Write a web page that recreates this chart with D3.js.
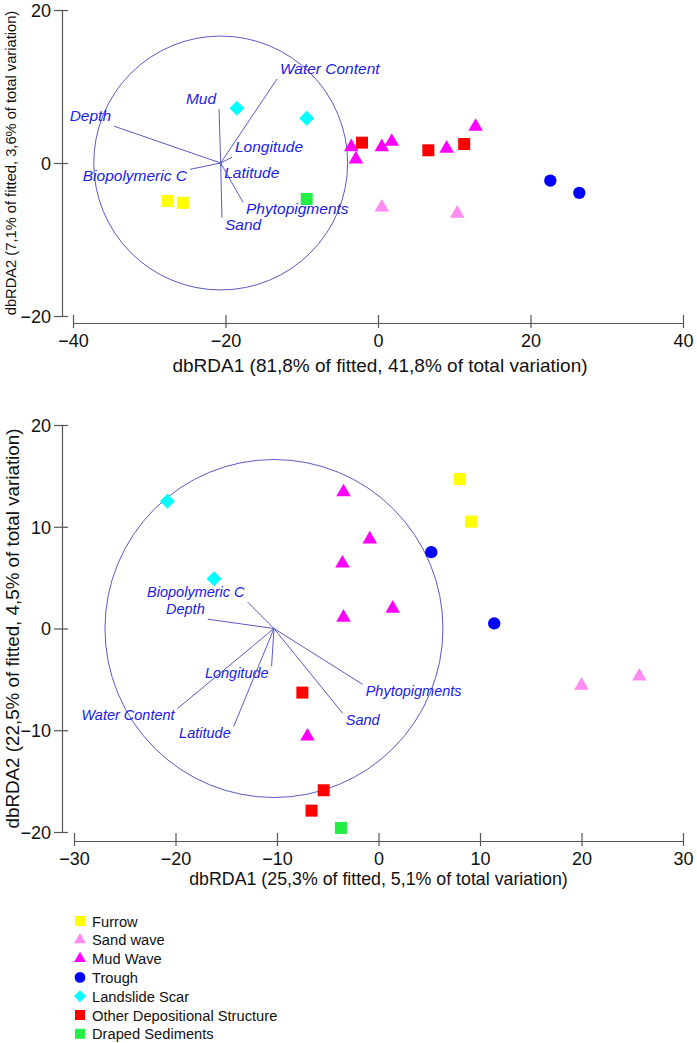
<!DOCTYPE html>
<html><head><meta charset="utf-8">
<script src="https://cdn.jsdelivr.net/npm/d3@7"></script>
<style>body{margin:0;background:#fff;} svg{display:block;font-family:"Liberation Sans",Arial,sans-serif;}</style>
</head><body><div id="chart"></div>
<script>
// ---------- data ----------
const groups = ["Furrow","Sand wave","Mud Wave","Trough","Landslide Scar","Other Depositional Structure","Draped Sediments"];
const groupShapes = ["square","triangle","triangle","circle","diamond","square","square"];
const groupColors = ["#ffff00","#ff8cf2","#ff00ff","#0000ff","#00ffff","#ff0000","#22ee44"];

// Top panel (dbRDA1 vs dbRDA2, first analysis)
const furrow1 = [[-27.6,-4.97],[-25.6,-5.2]];
const sandWave1 = [[0.5,-5.8],[10.4,-6.6]];
const mudWave1 = [[-3.5,2.1],[-2.9,0.5],[0.5,2.1],[1.8,2.8],[9.0,1.9],[12.8,4.75]];
const trough1 = [[22.6,-2.3],[26.4,-3.9]];
const landslide1 = [[-18.5,7.15],[-9.35,5.84]];
const otherDep1 = [[-2.1,2.66],[6.6,1.66],[11.3,2.48]];
const draped1 = [[-9.35,-4.7]];

// Bottom panel (second analysis)
const furrow2 = [[8.0,14.7],[9.1,10.5]];
const sandWave2 = [[20.0,-5.6],[25.7,-4.7]];
const mudWave2 = [[-3.45,13.4],[-0.86,8.77],[-3.55,6.4],[1.4,1.97],[-3.45,1.08],[-7.0,-10.6]];
const trough2 = [[5.2,7.5],[11.4,0.5]];
const landslide2 = [[-20.8,12.5],[-16.2,4.9]];
const otherDep2 = [[-7.5,-6.3],[-5.4,-15.9],[-6.6,-17.9]];
const draped2 = [[-3.7,-19.6]];

// Vectors (correlations, unit circle)
const vecNames1 = ["Depth","Mud","Water Content","Longitude","Biopolymeric C","Latitude","Phytopigments","Sand"];
const vecX1 = [-0.840,-0.013,0.443,0.089,-0.242,0.004,0.176,0.010];
const vecY1 = [0.289,0.423,0.659,0.045,-0.050,-0.026,-0.309,-0.428];
const vecNames2 = ["Biopolymeric C","Depth","Longitude","Water Content","Latitude","Sand","Phytopigments"];
const vecX2 = [-0.156,-0.392,-0.014,-0.570,-0.238,0.407,0.525];
const vecY2 = [0.156,0.055,-0.223,-0.472,-0.578,-0.501,-0.330];

const circleCenter1 = [-20.63, 0], circleCenter2 = [-10.3, 0];
const circleRadius = 16.65;

const xTicks1 = [-40,-20,0,20,40], yTicks1 = [-20,0,20];
const xTicks2 = [-30,-20,-10,0,10,20,30], yTicks2 = [-20,-10,0,10,20];
const xTitle1 = "dbRDA1 (81,8% of fitted, 41,8% of total variation)";
const yTitle1 = "dbRDA2 (7,1% of fitted, 3,6% of total variation)";
const xTitle2 = "dbRDA1 (25,3% of fitted, 5,1% of total variation)";
const yTitle2 = "dbRDA2 (22,5% of fitted, 4,5% of total variation)";

// ---------- drawing ----------
const W = 697, H = 1043;
const svg = d3.select("#chart").append("svg").attr("width", W).attr("height", H);
const axisColor = "#555";
const vecColor = "#5a5ac4";
const labelColor = "#2020e6";

function shapePath(shape, size) {
  if (shape === "square") return d3.symbol(d3.symbolSquare, size)();
  if (shape === "triangle") return d3.symbol(d3.symbolTriangle, size)();
  if (shape === "circle") return d3.symbol(d3.symbolCircle, size)();
  if (shape === "diamond") return d3.symbol(d3.symbolSquare, size)();
}
const markerSize = {square:144, triangle:92, circle:120, diamond:112};

function panel(cfg) {
  const g = svg.append("g");
  const x = d3.scaleLinear().domain(cfg.xDomain).range(cfg.xRange);
  const y = d3.scaleLinear().domain(cfg.yDomain).range(cfg.yRange);

  // x axis
  const xa = g.append("g").attr("transform", `translate(0,${cfg.xAxisY})`)
    .call(d3.axisBottom(x).tickValues(cfg.xTicks).tickSize(0).tickPadding(0).tickFormat(d3.format("d")));
  xa.select(".domain").attr("stroke", axisColor).attr("stroke-width", 1.2);
  xa.selectAll(".tick line").attr("y1", -8).attr("y2", 5).attr("stroke", axisColor).attr("stroke-width", 1.2);
  xa.selectAll(".tick text").attr("y", 24).attr("dy", null).attr("font-size", 18).attr("fill", "#111")
    .style("font-family", "Liberation Sans, Arial, sans-serif");

  // y axis
  const ya = g.append("g").attr("transform", `translate(${cfg.yAxisX},0)`)
    .call(d3.axisLeft(y).tickValues(cfg.yTicks).tickSize(0).tickPadding(0).tickFormat(d3.format("d")));
  ya.select(".domain").attr("stroke", axisColor).attr("stroke-width", 1.2);
  ya.selectAll(".tick line").attr("x1", -8).attr("x2", 6).attr("stroke", axisColor).attr("stroke-width", 1.2);
  ya.selectAll(".tick text").attr("x", -11).attr("dy", "0.35em").attr("font-size", 18).attr("fill", "#111")
    .style("font-family", "Liberation Sans, Arial, sans-serif");

  // axis titles
  g.append("text").attr("x", (cfg.xRange[0]+cfg.xRange[1])/2 + cfg.xTitleShift).attr("y", cfg.xAxisY + cfg.xTitleDy)
    .attr("text-anchor", "middle").attr("font-size", cfg.xTitleSize).attr("fill", "#111").text(cfg.xTitle);
  const ymid = (cfg.yRange[0]+cfg.yRange[1])/2;
  g.append("text").attr("transform", `translate(${cfg.yTitleX},${ymid}) rotate(-90)`)
    .attr("text-anchor", "middle").attr("font-size", cfg.yTitleSize).attr("fill", "#111").text(cfg.yTitle);

  // circle
  const cx = x(cfg.center[0]), cy = y(cfg.center[1]);
  const rpx = x(cfg.center[0] + circleRadius) - cx;
  g.append("circle").attr("cx", cx).attr("cy", cy).attr("r", rpx)
    .attr("fill", "none").attr("stroke", vecColor).attr("stroke-width", 1);

  // vectors
  const vecs = cfg.vecNames.map((n, i) => ({name: n, dx: cfg.vecX[i], dy: cfg.vecY[i]}));
  vecs.forEach(v => {
    const ex = x(cfg.center[0] + v.dx * circleRadius);
    const ey = y(cfg.center[1] + v.dy * circleRadius);
    g.append("line").attr("x1", cx).attr("y1", cy).attr("x2", ex).attr("y2", ey)
      .attr("stroke", vecColor).attr("stroke-width", 1);
    const right = v.dx >= 0;
    g.append("text").attr("x", ex + (right ? 3 : -3)).attr("y", v.dy > 0 ? ey - 5 : ey + 12)
      .attr("text-anchor", right ? "start" : "end")
      .attr("font-size", cfg.vecFont).attr("font-style", "italic").attr("fill", labelColor).text(v.name);
  });

  // points
  cfg.sets.forEach((pts, gi) => {
    const shape = groupShapes[gi];
    g.append("g").selectAll("path").data(pts).join("path")
      .attr("d", shapePath(shape, markerSize[shape]))
      .attr("transform", d => `translate(${x(d[0])},${y(d[1])})` + (shape === "diamond" ? " rotate(45)" : ""))
      .attr("fill", groupColors[gi]);
  });
}

panel({
  xDomain: [-40, 40], xRange: [73, 683], yDomain: [-20, 20], yRange: [316, 10],
  xAxisY: 323, yAxisX: 62, xTicks: xTicks1, yTicks: yTicks1,
  xTitle: xTitle1, xTitleSize: 19, xTitleDy: 49, xTitleShift: 2,
  yTitle: yTitle1, yTitleSize: 14.7, yTitleX: 16,
  center: circleCenter1, vecNames: vecNames1, vecX: vecX1, vecY: vecY1, vecFont: 15.5,
  sets: [furrow1, sandWave1, mudWave1, trough1, landslide1, otherDep1, draped1]
});
panel({
  xDomain: [-30, 30], xRange: [74, 683], yDomain: [-20, 20], yRange: [832, 425],
  xAxisY: 841, yAxisX: 62, xTicks: xTicks2, yTicks: yTicks2,
  xTitle: xTitle2, xTitleSize: 17.8, xTitleDy: 44, xTitleShift: 0,
  yTitle: yTitle2, yTitleSize: 18.8, yTitleX: 19,
  center: circleCenter2, vecNames: vecNames2, vecX: vecX2, vecY: vecY2, vecFont: 14.5,
  sets: [furrow2, sandWave2, mudWave2, trough2, landslide2, otherDep2, draped2]
});

// legend
const legend = svg.append("g").attr("transform", "translate(80,921)");
const legendSize = {square:100, triangle:62, circle:90, diamond:72};
groups.forEach((name, i) => {
  const row = legend.append("g").attr("transform", `translate(0,${i * 18.8})`);
  const shape = groupShapes[i];
  row.append("path").attr("d", shapePath(shape, legendSize[shape]))
    .attr("transform", shape === "diamond" ? "rotate(45)" : null).attr("fill", groupColors[i]);
  row.append("text").attr("x", 12).attr("y", 5.5).attr("font-size", 14.7).attr("fill", "#111").text(name);
});
</script></body></html>
